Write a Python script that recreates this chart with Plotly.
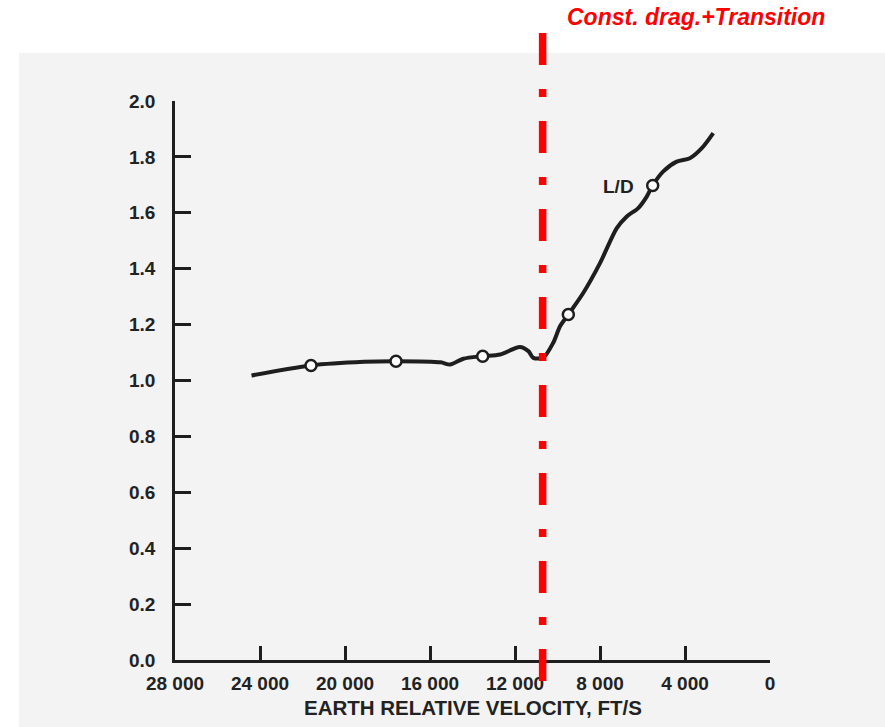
import plotly.graph_objects as go

# ---- data ----
velocity = [24400, 21600, 19100, 17600, 15500, 15050, 14430, 13520, 12700, 11770,
            11370, 11140, 10670, 10200, 9880, 9490, 8790, 8000, 7210, 6740,
            6200, 5800, 5520, 5020, 4390, 3770, 3210, 2670]
lift_drag = [1.018, 1.054, 1.067, 1.069, 1.065, 1.057, 1.078, 1.087, 1.093, 1.120,
             1.105, 1.081, 1.082, 1.135, 1.194, 1.236, 1.313, 1.420, 1.545, 1.587,
             1.617, 1.658, 1.698, 1.748, 1.783, 1.795, 1.831, 1.885]
marker_velocity = [21600, 17600, 13520, 9490, 5520]
marker_lift_drag = [1.054, 1.069, 1.087, 1.236, 1.698]
x_ticks = [28000, 24000, 20000, 16000, 12000, 8000, 4000, 0]
x_tick_labels = ["28 000", "24 000", "20 000", "16 000", "12 000", "8 000", "4 000", "0"]
y_ticks = [0.0, 0.2, 0.4, 0.6, 0.8, 1.0, 1.2, 1.4, 1.6, 1.8, 2.0]
y_tick_labels = ["0.0", "0.2", "0.4", "0.6", "0.8", "1.0", "1.2", "1.4", "1.6", "1.8", "2.0"]
transition_velocity = 10700
curve_label = "L/D"
x_title = "EARTH RELATIVE VELOCITY, FT/S"
banner = "Const. drag.+Transition"

# ---- layout geometry (page pixels; body margin removed by post_script) ----
W, H = 885, 727
AX_LEFT, AX_RIGHT, AX_TOP, AX_BOTTOM = 175, 770, 101, 660
L, R, T, B = AX_LEFT, W - AX_RIGHT, AX_TOP, H - AX_BOTTOM
PW, PH = AX_RIGHT - AX_LEFT, AX_BOTTOM - AX_TOP


def px_x(px):
    return (px - AX_LEFT) / PW


def px_y(py):
    return (AX_BOTTOM - py) / PH


INK = "#1e1e1e"
GRAY = "#f3f3f3"
FONT = "Liberation Sans, Arial, Helvetica, sans-serif"

fig = go.Figure()

fig.add_trace(go.Scatter(
    x=velocity, y=lift_drag, mode="lines",
    line=dict(color=INK, width=4, shape="spline", smoothing=0.8),
    hoverinfo="skip", showlegend=False,
))
fig.add_trace(go.Scatter(
    x=marker_velocity, y=marker_lift_drag, mode="markers",
    marker=dict(size=11, color="white", line=dict(color=INK, width=2.5)),
    showlegend=False,
))

axis_common = dict(
    showgrid=False, zeroline=False, showline=True, linecolor=INK, linewidth=2.5,
    ticks="inside", tickcolor=INK, tickwidth=2.5,
    tickfont=dict(family=FONT, size=19, color="#222", weight="bold"),
)

fig.update_xaxes(
    range=[28000, 0], tickmode="array", tickvals=x_ticks, ticktext=x_tick_labels,
    ticklen=14, ticklabelstandoff=4, **axis_common,
)
fig.update_yaxes(
    range=[0, 2.0], tickmode="array", tickvals=y_ticks, ticktext=y_tick_labels,
    ticklen=16, ticklabelstandoff=13, **axis_common,
)

shapes = [
    # scanned page background
    dict(type="rect", xref="paper", yref="paper",
         x0=px_x(19), x1=px_x(W), y0=px_y(H), y1=px_y(53),
         fillcolor=GRAY, line=dict(width=0), layer="below"),
    # transition marker
    dict(type="line", xref="x", yref="paper",
         x0=transition_velocity, x1=transition_velocity, y0=px_y(681), y1=px_y(33),
         line=dict(color="#ff0000", width=7.5, dash="32px,24px,8px,24px"), layer="above"),
]

annotations = [
    dict(text=curve_label, x=px_x(636), y=px_y(186), xref="paper", yref="paper",
         xanchor="right", yanchor="middle", showarrow=False,
         font=dict(family=FONT, size=19, color="#222", weight="bold")),
    dict(text=x_title, x=0.5, y=px_y(707), xref="paper", yref="paper",
         xanchor="center", yanchor="middle", showarrow=False,
         font=dict(family=FONT, size=20.5, color="#222", weight="bold")),
    dict(text=banner, x=px_x(696), y=px_y(17), xref="paper", yref="paper",
         xanchor="center", yanchor="middle", showarrow=False,
         font=dict(family=FONT, size=23, color="#ff0000", weight="bold", style="italic")),
]

fig.update_layout(
    width=W, height=H,
    margin=dict(l=L, r=R, t=T, b=B, pad=0),
    paper_bgcolor="white", plot_bgcolor=GRAY,
    shapes=shapes, annotations=annotations,
    showlegend=False,
)

fig.write_html(
    "out.html",
    config={"displayModeBar": False},
    post_script="document.body.style.margin='0';",
)
